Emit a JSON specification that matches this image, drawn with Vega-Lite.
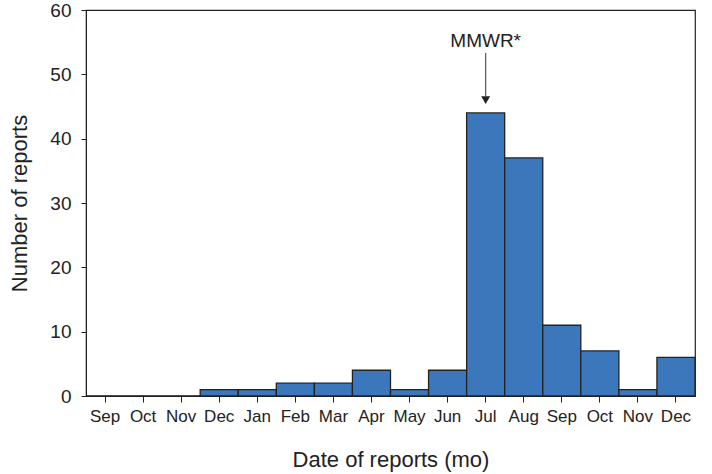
{
  "$schema": "https://vega.github.io/schema/vega-lite/v6.json",
  "width": 609,
  "height": 386,
  "autosize": {"type": "none"},
  "padding": {"left": 86, "top": 10, "right": 17, "bottom": 78},
  "background": "white",
  "config": {
    "font": "Liberation Sans",
    "view": {"stroke": "#222", "strokeWidth": 1.2},
    "axis": {"grid": false, "domainColor": "#222", "tickColor": "#222", "labelColor": "#222", "titleColor": "#222", "titleFontWeight": "normal"}
  },
  "datasets": {
    "bars": [
      {"period": "Sep 2003", "reports": 0},
      {"period": "Oct 2003", "reports": 0},
      {"period": "Nov 2003", "reports": 0},
      {"period": "Dec 2003", "reports": 1},
      {"period": "Jan 2004", "reports": 1},
      {"period": "Feb 2004", "reports": 2},
      {"period": "Mar 2004", "reports": 2},
      {"period": "Apr 2004", "reports": 4},
      {"period": "May 2004", "reports": 1},
      {"period": "Jun 2004", "reports": 4},
      {"period": "Jul 2004", "reports": 44},
      {"period": "Aug 2004", "reports": 37},
      {"period": "Sep 2004", "reports": 11},
      {"period": "Oct 2004", "reports": 7},
      {"period": "Nov 2004", "reports": 1},
      {"period": "Dec 2004", "reports": 6}
    ],
    "note": [
      {"period": "Jul 2004", "label": "MMWR*", "textY": 55.2, "lineTop": 53.3, "lineBottom": 46.6, "tipY": 46.0}
    ]
  },
  "layer": [
    {
      "data": {"name": "bars"},
      "mark": {"type": "bar", "color": "#3d77bb", "stroke": "#222", "strokeWidth": 1.3},
      "encoding": {
        "x": {
          "field": "period", "type": "ordinal", "sort": null,
          "scale": {"paddingInner": 0, "paddingOuter": 0},
          "axis": {
            "title": "Date of reports (mo)", "titleFontSize": 22, "titlePadding": 25,
            "labelExpr": "split(datum.label, ' ')[0]", "labelFontSize": 17, "labelAngle": 0,
            "labelPadding": 6, "tickSize": 6, "domain": true, "labelColor": "#222"
          }
        },
        "y": {
          "field": "reports", "type": "quantitative",
          "scale": {"domain": [0, 60], "nice": false},
          "axis": {
            "title": "Number of reports", "titleFontSize": 22, "titlePadding": 18,
            "values": [0, 10, 20, 30, 40, 50, 60], "labelFontSize": 19,
            "labelPadding": 10, "tickSize": 5
          }
        }
      }
    },
    {
      "data": {"name": "note"},
      "mark": {"type": "rule", "color": "#555", "strokeWidth": 1.2},
      "encoding": {
        "x": {"field": "period", "type": "ordinal", "sort": null},
        "y": {"field": "lineTop", "type": "quantitative"},
        "y2": {"field": "lineBottom"}
      }
    },
    {
      "data": {"name": "note"},
      "mark": {"type": "point", "shape": "triangle-down", "filled": true, "color": "#222", "size": 80, "opacity": 1},
      "encoding": {
        "x": {"field": "period", "type": "ordinal", "sort": null},
        "y": {"field": "tipY", "type": "quantitative"}
      }
    },
    {
      "data": {"name": "note"},
      "mark": {"type": "text", "fontSize": 19, "color": "#222", "baseline": "middle", "align": "center"},
      "encoding": {
        "x": {"field": "period", "type": "ordinal", "sort": null},
        "y": {"field": "textY", "type": "quantitative"},
        "text": {"field": "label"}
      }
    }
  ]
}
